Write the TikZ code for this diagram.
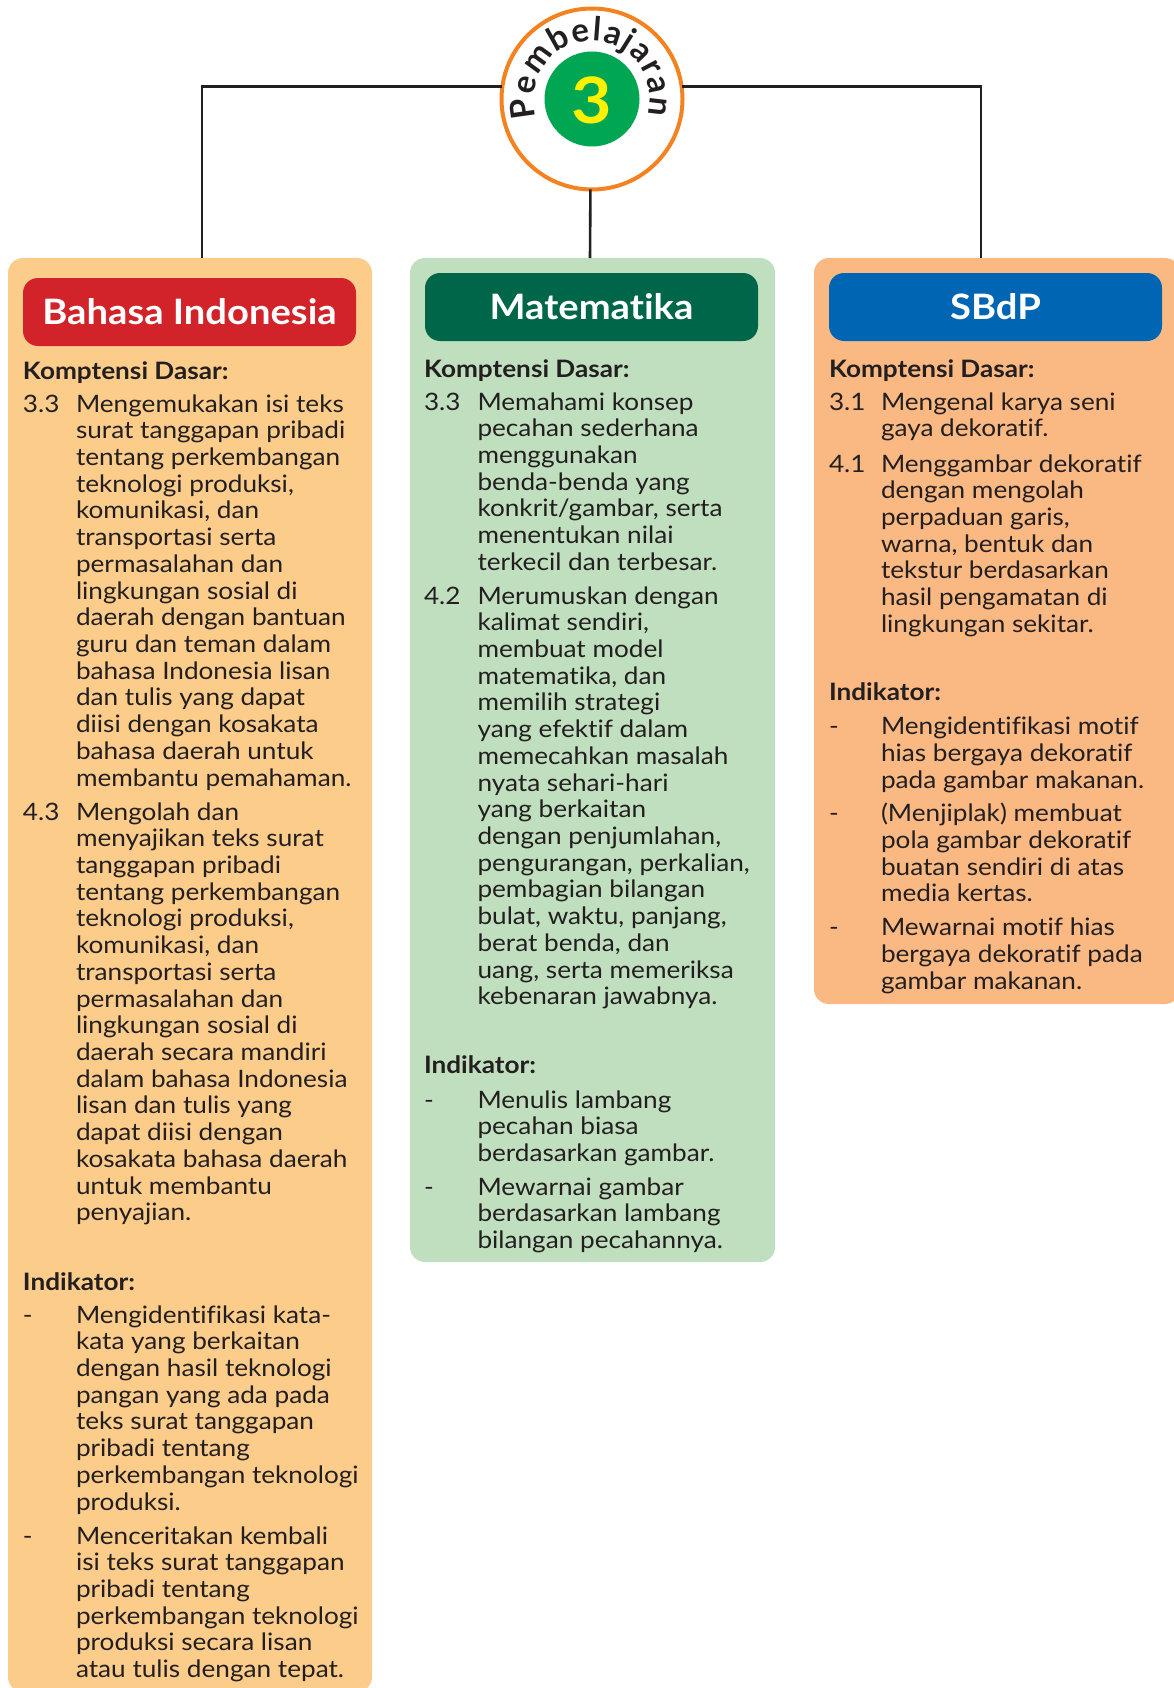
\documentclass[tikz,border=0pt]{standalone}
\usepackage{fontspec}
\setmainfont{Lato}[Ligatures=NoCommon,FakeStretch=1.09]
\newfontfamily\arcfont{Lato}[Ligatures=NoCommon]
\usetikzlibrary{decorations.text}
\definecolor{ink}{HTML}{231F20}
\definecolor{panelL}{HTML}{FCCC8A}
\definecolor{panelM}{HTML}{C0DFBE}
\definecolor{panelR}{HTML}{FAB982}
\definecolor{headL}{HTML}{D2232A}
\definecolor{headM}{HTML}{00664A}
\definecolor{headR}{HTML}{0066B3}
\definecolor{hubgreen}{HTML}{00A651}
\definecolor{hubyellow}{HTML}{FFF200}
\definecolor{huborange}{HTML}{F58220}
\tikzset{
  x=1pt,y=1pt,
  panelbox/.style={anchor=north west,inner sep=0,outer sep=0,rounded corners=15pt,minimum width=#1},
  headbox/.style={anchor=north west,inner sep=0,outer sep=0,rounded corners=15pt,minimum width=333pt,minimum height=68pt,text=white,font=\fontsize{35}{40}\selectfont\bfseries},
  txt/.style={anchor=north west,inner sep=0,outer sep=0,align=left,text=ink,font=\fontsize{24}{26.72}\selectfont},
  txtb/.style={txt,font=\fontsize{24}{26.72}\selectfont\bfseries},
  link/.style={draw=ink,line width=2.6pt},
}
\newcommand{\blk}[5][txt]{\node[#1] (#2) at (#3,{20-#4}) {\rule{0pt}{20pt}#5};}
\begin{document}
\begin{tikzpicture}
\clip (0,0) rectangle (1174,-1688);
% panels
\node[panelbox=364pt,minimum height=1434pt,fill=panelL] (pL) at (8,-258) {};
\node[panelbox=365pt,minimum height=1004pt,fill=panelM] (pM) at (410,-258) {};
\node[panelbox=366pt,minimum height=746pt,fill=panelR] (pR) at (814,-258) {};
% headers
\node[headbox,fill=headL] (hL) at (23,-278) {Bahasa Indonesia};
\node[headbox,fill=headM] (hM) at (425,-273) {Matematika};
\node[headbox,fill=headR] (hR) at (829,-273) {SBdP};
% hub
\node[circle,draw=huborange,line width=4pt,fill=white,minimum size=181pt,inner sep=0,outer sep=0] (hub) at (592,-99) {};
\node[circle,fill=hubgreen,minimum size=95pt,inner sep=0,outer sep=0] (core) at (592,-99) {};
\node[inner sep=0,text=hubyellow,font=\fontsize{64}{64}\selectfont\bfseries] (num) at (592,-100) {3};
\coordinate (arcstart) at ({592+58*cos(198)},{-99+58*sin(198)});
\path[decorate,decoration={text along path,text align={fit to path},text={|\arcfont\fontsize{33}{33}\selectfont\bfseries\color{ink}|Pembelajaran}}]
  (arcstart) arc[start angle=198,end angle=-16,radius=58];
% connectors
\coordinate (tL) at (202,-258);
\coordinate (tR) at (981,-258);
\coordinate (tM) at (590,-258);
\draw[link] (hub.172) -| (tL);
\draw[link] (hub.8) -| (tR);
\draw[link] (hub.269) -- (tM);
% left column
\blk[txtb]{lk}{23}{379}{Komptensi Dasar:}
\blk{la1}{23}{412}{3.3}
\blk{lb1}{76}{412}{Mengemukakan isi teks\\surat tanggapan pribadi\\tentang perkembangan\\teknologi produksi,\\komunikasi, dan\\transportasi serta\\permasalahan dan\\lingkungan sosial di\\daerah dengan bantuan\\guru dan teman dalam\\bahasa Indonesia lisan\\dan tulis yang dapat\\diisi dengan kosakata\\bahasa daerah untuk\\membantu pemahaman.}
\blk{la2}{23}{820}{4.3}
\blk{lb2}{76}{820}{Mengolah dan\\menyajikan teks surat\\tanggapan pribadi\\tentang perkembangan\\teknologi produksi,\\komunikasi, dan\\transportasi serta\\permasalahan dan\\lingkungan sosial di\\daerah secara mandiri\\dalam bahasa Indonesia\\lisan dan tulis yang\\dapat diisi dengan\\kosakata bahasa daerah\\untuk membantu\\penyajian.}
\blk[txtb]{li}{23}{1290.5}{Indikator:}
\blk{la3}{23}{1323}{-}
\blk{lb3}{76}{1323}{Mengidentifikasi kata-\\kata yang berkaitan\\dengan hasil teknologi\\pangan yang ada pada\\teks surat tanggapan\\pribadi tentang\\perkembangan teknologi\\produksi.}
\blk{la4}{23}{1544}{-}
\blk{lb4}{76}{1544}{Menceritakan kembali\\isi teks surat tanggapan\\pribadi tentang\\perkembangan teknologi\\produksi secara lisan\\atau tulis dengan tepat.}
% middle column
\blk[txtb]{mk}{424}{377}{Komptensi Dasar:}
\blk{ma1}{424}{410}{3.3}
\blk{mb1}{477.5}{410}{Memahami konsep\\pecahan sederhana\\menggunakan\\benda-benda yang\\konkrit/gambar, serta\\menentukan nilai\\terkecil dan terbesar.}
\blk{ma2}{424}{604}{4.2}
\blk{mb2}{477.5}{604}{Merumuskan dengan\\kalimat sendiri,\\membuat model\\matematika, dan\\memilih strategi\\yang efektif dalam\\memecahkan masalah\\nyata sehari-hari\\yang berkaitan\\dengan penjumlahan,\\pengurangan, perkalian,\\pembagian bilangan\\bulat, waktu, panjang,\\berat benda, dan\\uang, serta memeriksa\\kebenaran jawabnya.}
\blk[txtb]{mi}{424}{1073.5}{Indikator:}
\blk{ma3}{424}{1108}{-}
\blk{mb3}{477.5}{1108}{Menulis lambang\\pecahan biasa\\berdasarkan gambar.}
\blk{ma4}{424}{1195}{-}
\blk{mb4}{477.5}{1195}{Mewarnai gambar\\berdasarkan lambang\\bilangan pecahannya.}
% right column
\blk[txtb]{rk}{829}{377}{Komptensi Dasar:}
\blk{ra1}{829}{410}{3.1}
\blk{rb1}{881}{410}{Mengenal karya seni\\gaya dekoratif.}
\blk{ra2}{829}{472}{4.1}
\blk{rb2}{881}{472}{Menggambar dekoratif\\dengan mengolah\\perpaduan garis,\\warna, bentuk dan\\tekstur berdasarkan\\hasil pengamatan di\\lingkungan sekitar.}
\blk[txtb]{ri}{829}{700}{Indikator:}
\blk{ra3}{829}{734.6}{-}
\blk{rb3}{881}{734.6}{Mengidentifikasi motif\\hias bergaya dekoratif\\pada gambar makanan.}
\blk{ra4}{829}{821.8}{-}
\blk{rb4}{881}{821.8}{(Menjiplak) membuat\\pola gambar dekoratif\\buatan sendiri di atas\\media kertas.}
\blk{ra5}{829}{935.9}{-}
\blk{rb5}{881}{935.9}{Mewarnai motif hias\\bergaya dekoratif pada\\gambar makanan.}
\end{tikzpicture}
\end{document}
